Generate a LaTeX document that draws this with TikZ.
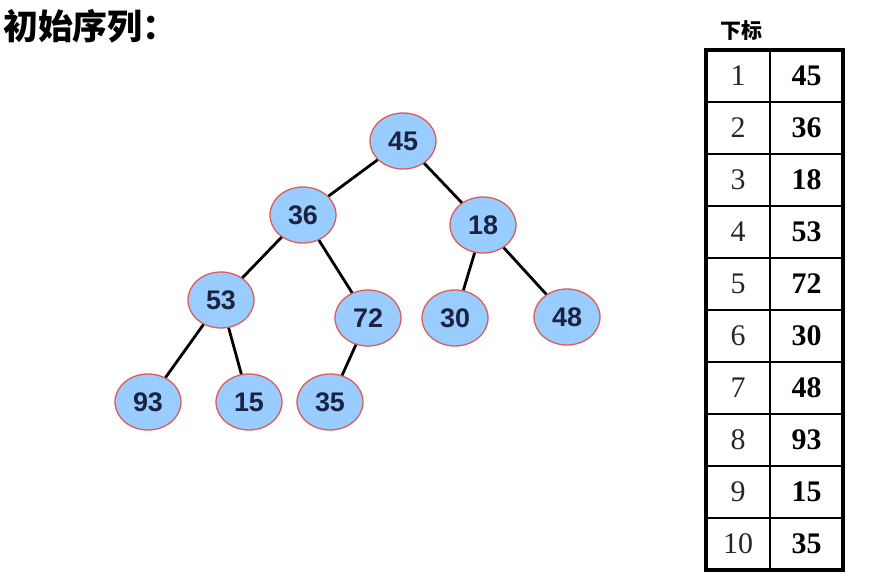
\documentclass[tikz,border=0pt]{standalone}
\usepackage{fontspec}
\setmainfont{Liberation Serif}
\newfontfamily\cjkfont{Noto Sans CJK SC}
\newfontfamily\numsans{Liberation Sans}
\usetikzlibrary{shapes.geometric}
\definecolor{nodefill}{HTML}{99CCFF}
\definecolor{noderim}{HTML}{E05A5A}
\definecolor{numcol}{HTML}{1C2240}
\tikzset{
  heapnode/.style={ellipse, draw=noderim, line width=1.3pt, fill=nodefill,
    minimum width=66bp, minimum height=56bp, inner sep=0pt,
    font=\numsans\bfseries\fontsize{27}{27}\selectfont, text=numcol},
  edge/.style={line width=2.8bp, black},
  idxcell/.style={inner sep=0pt, font=\fontsize{30}{30}\selectfont, text=black!85},
  valcell/.style={inner sep=0pt, font=\bfseries\fontsize{30}{30}\selectfont},
}
\begin{document}
\begin{tikzpicture}[x=1bp,y=-1bp]
\useasboundingbox[fill=white] (0,0) rectangle (885,582);
\node[anchor=west, inner sep=0pt, font=\cjkfont\bfseries\fontsize{35}{35}\selectfont] (title) at (3,26) {初始序列：};
% tree
\node[heapnode] (n45) at (403,141) {45};
\node[heapnode] (n36) at (303,215) {36};
\node[heapnode] (n18) at (483,225) {18};
\node[heapnode] (n53) at (221,300) {53};
\node[heapnode] (n72) at (368,318) {72};
\node[heapnode] (n30) at (455,318) {30};
\node[heapnode] (n48) at (567,317) {48};
\node[heapnode] (n93) at (148,402) {93};
\node[heapnode] (n15) at (249,402) {15};
\node[heapnode] (n35) at (330,402) {35};
\draw[edge] (n45) -- (n36);
\draw[edge] (n45) -- (n18);
\draw[edge] (n36) -- (n53);
\draw[edge] (n36) -- (n72);
\draw[edge] (n18) -- (n30);
\draw[edge] (n18) -- (n48);
\draw[edge] (n53) -- (n93);
\draw[edge] (n53) -- (n15);
\draw[edge] (n72) -- (n35);
% table
\node[inner sep=0pt, font=\cjkfont\bfseries\fontsize{21}{21}\selectfont] (hdr) at (741,31) {下标};
\foreach \i/\v in {1/45,2/36,3/18,4/53,5/72,6/30,7/48,8/93,9/15,10/35} {
  \node[idxcell] (i\i) at (738,{50+52*(\i-0.5)}) {\i};
  \node[valcell] (v\i) at (806.5,{50+52*(\i-0.5)}) {\v};
}
\foreach \k in {1,...,9} {
  \draw[line width=2bp] (706,{50+52*\k}) -- (843,{50+52*\k});
}
\draw[line width=2bp] (770,50) -- (770,570);
\draw[line width=3.2bp] (706,50) rectangle (843,570);
\end{tikzpicture}
\end{document}
